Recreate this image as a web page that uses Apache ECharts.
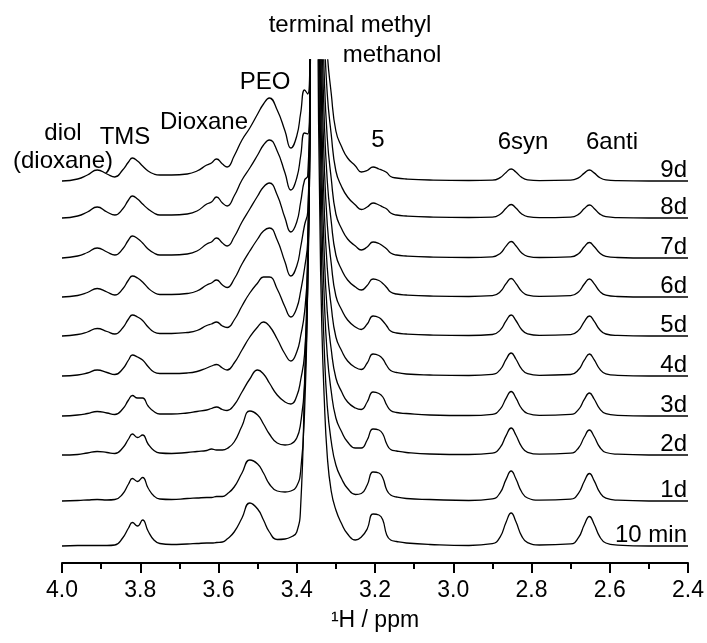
<!DOCTYPE html>
<html>
<head>
<meta charset="utf-8">
<script src="https://cdn.jsdelivr.net/npm/echarts@6/dist/echarts.min.js"></script>
<style>
  html, body { margin: 0; padding: 0; background: #fff; }
  #chart { width: 707px; height: 643px; }
</style>
</head>
<body>
<div id="chart"></div>
<script>
  // chemical shift grid (ppm), shared by every spectrum
  const ppm = [
    4.00, 3.96, 3.935, 3.91, 3.885, 3.865, 3.845, 3.83, 3.82, 3.807, 3.794, 3.78, 3.765, 3.75, 3.72, 3.68, 3.655, 3.63, 3.618, 3.605,
    3.59, 3.578, 3.56, 3.54, 3.52, 3.50, 3.485, 3.47, 3.45, 3.43, 3.415,
    3.40, 3.39, 3.38, 3.372, 3.366, 3.361, 3.356, 3.351, 3.346, 3.341, 3.336, 3.33, 3.322, 3.312, 3.30, 3.285, 3.27,
    3.25, 3.235, 3.22, 3.205, 3.19, 3.18, 3.17, 3.16, 3.145, 3.12, 3.06, 2.96,
    2.90, 2.88, 2.865, 2.852, 2.84, 2.825, 2.81, 2.78,
    2.70, 2.68, 2.665, 2.652, 2.64, 2.625, 2.61, 2.58,
    2.50, 2.40
  ];

  // spectra from bottom to top, with their vertical offsets (a.u.)
  const traceNames = ['10 min', '1d', '2d', '3d', '4d', '5d', '6d', '7d', '8d', '9d'];
  const offsets = [17, 62, 108, 147, 187, 227, 266, 305, 345, 382];

  // intensities (a.u.), the central peak goes off scale
  const h10min = [
    0, 0.5, 0.5, 0.5, 0.5, 1, 8, 18, 23.5, 20, 26, 15, 6, 2.5, 1.5, 2, 2.5, 3, 3, 3.5,
    4, 7, 14, 28, 43, 37, 26, 14, 6.5, 7, 9,
    14, 40, 165, 300, 470, 900, 1500, 1200, 520, 330, 220, 150, 90, 55, 36, 22, 12,
    6, 9, 17, 32, 31, 26, 11, 6, 4.5, 3, 1.5, 0.5,
    2.3, 9.2, 23.8, 33, 24.4, 9.9, 3.3, 1,
    2.1, 8.3, 21.2, 29.5, 21.8, 8.9, 3, 0.9,
    0, 0
  ];
  const h1d = [
    0, 0.5, 1, 1.5, 1, 1.5, 7, 17, 22.5, 19.5, 23.5, 13, 5, 2, 1.5, 2.5, 3, 3.5, 3.5, 4.5,
    4.5, 7, 14, 28, 41, 37, 28, 17, 10, 9, 10,
    15, 30, 90, 220, 420, 850, 1500, 1200, 560, 350, 230, 155, 95, 60, 36, 22, 12.5,
    6.5, 7.5, 16, 29, 28, 23, 11, 6, 4, 2.5, 1.5, 0.5,
    2.1, 8.4, 21.6, 30, 22.2, 9, 3, 0.9,
    1.9, 7.7, 19.8, 27.5, 20.4, 8.3, 2.8, 0.8,
    0, 0
  ];
  const h2d = [
    0, 0.5, 2, 3.5, 2.5, 1.5, 7, 16, 21, 17.5, 20, 11, 4.5, 2, 1.5, 2.5, 3.5, 4.5, 6, 5,
    5, 6.5, 13, 29, 44, 40, 31, 21, 12, 10, 11,
    17, 32, 70, 170, 360, 800, 1500, 1200, 600, 370, 240, 160, 100, 64, 37, 23, 13,
    7, 7, 15, 26, 25, 21, 11, 5.5, 4, 2.5, 1, 0.5,
    1.9, 7.6, 19.4, 27, 20, 8.1, 2.7, 0.8,
    1.8, 7, 18, 25, 18.5, 7.5, 2.5, 0.8,
    0, 0
  ];
  const h3d = [
    0, 1, 2.5, 4.5, 3, 1.5, 7, 16, 20.5, 18, 18, 10, 4.5, 2, 2, 3, 4.5, 6, 7.5, 9,
    6.5, 5.5, 11, 24, 37, 46, 42, 33, 21, 14, 12,
    20, 36, 62, 130, 310, 750, 1500, 1200, 640, 390, 250, 165, 104, 67, 38, 24, 14,
    8, 6.5, 14, 24, 22.5, 19, 11, 5.5, 3.5, 2.5, 1, 0.5,
    1.7, 6.9, 17.6, 24.5, 18.1, 7.4, 2.5, 0.7,
    1.6, 6.4, 16.6, 23, 17, 6.9, 2.3, 0.7,
    0, 0
  ];
  const h4d = [
    0, 1, 3, 6, 3.5, 1.5, 7, 16, 21, 19, 16, 9.5, 4, 2.5, 2.5, 3, 4.5, 8, 10, 11.5,
    8, 6, 13, 26, 39, 49, 54, 50, 37, 22, 15,
    24, 40, 64, 110, 260, 700, 1500, 1200, 680, 410, 260, 170, 108, 70, 39, 25, 15,
    8.5, 6.5, 13, 22, 20.5, 17, 10.5, 5.5, 3.5, 2, 1, 0.5,
    1.6, 6.4, 16.6, 23, 17, 6.9, 2.3, 0.7,
    1.5, 6.2, 15.8, 22, 16.3, 6.6, 2.2, 0.7,
    0, 0
  ];
  const h5d = [
    0, 1.5, 4, 7.5, 4.5, 2, 8, 17, 21, 19, 15.5, 9, 4, 2.5, 2.5, 3.5, 5.5, 10.5, 12, 14,
    10, 8.5, 16, 30, 43, 53, 59, 59, 47, 29, 19,
    28, 45, 68, 95, 220, 650, 1500, 1200, 720, 430, 270, 175, 112, 73, 40, 26, 16,
    9, 6.5, 12, 20, 18.5, 15, 10, 5, 3, 2, 1, 0.5,
    1.5, 5.9, 15.1, 21, 15.5, 6.3, 2.1, 0.6,
    1.4, 5.6, 14.4, 20, 14.8, 6, 2, 0.6,
    0, 0
  ];
  const h6d = [
    0, 1.5, 4.5, 8.5, 5, 2, 8, 17, 21, 19, 15, 9, 4.5, 2.5, 2.5, 3.5, 6, 12, 14, 17,
    12, 9.5, 18, 33, 46, 58, 66, 69, 57, 35, 21,
    31, 50, 72, 85, 190, 600, 1500, 1200, 760, 450, 280, 180, 116, 76, 42, 27, 17,
    10, 7, 11.5, 18, 16.5, 13.5, 9.5, 5, 3, 2, 1, 0.5,
    1.3, 5.2, 13.3, 18.5, 13.7, 5.6, 1.9, 0.6,
    1.3, 5, 13, 18, 13.3, 5.4, 1.8, 0.5,
    0, 0
  ];
  const h7d = [
    0, 2, 5.5, 10, 6, 3, 9, 18, 22, 19.5, 15, 9, 5, 3, 3, 4, 7, 14, 16, 20,
    15, 12, 21, 36, 49, 62, 71, 75, 63, 40, 26,
    36, 56, 78, 82, 170, 550, 1500, 1200, 800, 470, 290, 185, 120, 80, 44, 29, 19,
    12, 8, 11, 16, 14.5, 12, 9, 5, 3, 2, 1, 0.5,
    1.2, 4.6, 11.9, 16.5, 12.2, 5, 1.7, 0.5,
    1.1, 4.3, 11.2, 15.5, 11.5, 4.7, 1.6, 0.5,
    0, 0
  ];
  const h8d = [
    0, 2, 6, 11, 6, 3, 9, 18, 22, 19, 14, 9, 5, 3, 3, 4, 7, 14, 16, 21,
    15, 12, 22, 38, 50, 63, 73, 78, 67, 45, 28,
    40, 62, 85, 84, 150, 500, 1500, 1200, 840, 490, 300, 190, 124, 84, 47, 31, 21,
    13, 8.5, 11, 15, 13, 11, 9, 5, 3, 2, 1, 0.5,
    0.9, 3.8, 9.7, 13.5, 10, 4.1, 1.4, 0.4,
    0.9, 3.6, 9.4, 13, 9.6, 3.9, 1.3, 0.4,
    0, 0
  ];
  const h9d = [
    0, 2, 6, 11, 7, 4, 11, 19, 23, 20, 15, 10, 7, 6, 6, 7, 10, 16, 18, 22,
    17, 14, 25, 41, 53, 67, 77, 83, 71, 50, 33,
    45, 68, 91, 87, 140, 450, 1500, 1200, 880, 510, 310, 195, 128, 88, 50, 34, 23,
    15, 9, 10.5, 14, 12, 10.5, 8.5, 4.5, 3, 2, 1, 0.5,
    0.8, 3.4, 8.6, 12, 8.9, 3.6, 1.2, 0.4,
    0.8, 3.1, 7.9, 11, 8.1, 3.3, 1.1, 0.3,
    0, 0
  ];
  const traceHeights = [h10min, h1d, h2d, h3d, h4d, h5d, h6d, h7d, h8d, h9d];

  const FONT = 'Liberation Sans, Arial, Helvetica, sans-serif';
  const FS = 24;     // annotations
  const FS_AX = 23;  // axis

  const myChart = echarts.init(document.getElementById('chart'), null, { renderer: 'canvas' });

  myChart.setOption({
    animation: false,
    backgroundColor: '#fff',
    grid: { left: 62, right: 16, top: 60, bottom: 80 },
    xAxis: {
      type: 'value',
      min: 2.4,
      max: 4.0,
      interval: 0.2,
      inverse: true,
      axisLine: { lineStyle: { color: '#000', width: 2 } },
      axisTick: { length: 10, lineStyle: { color: '#000', width: 2 } },
      minorTick: { show: true, splitNumber: 2, length: 6, lineStyle: { color: '#000', width: 2 } },
      splitLine: { show: false },
      axisLabel: {
        color: '#000', fontSize: FS_AX, fontFamily: FONT, margin: 16,
        showMinLabel: true, showMaxLabel: true,
        formatter: (v) => v.toFixed(1)
      },
      name: '\u00b9H / ppm',
      nameLocation: 'middle',
      nameGap: 46,
      nameTextStyle: { color: '#000', fontSize: FS_AX, fontFamily: FONT }
    },
    yAxis: { type: 'value', min: 0, max: 503, show: false },
    series: traceHeights.map((h, k) => ({
      name: traceNames[k],
      type: 'line',
      data: ppm.map((p, i) => [p, offsets[k] + h[i]]),
      symbol: 'none',
      smooth: 0.5,
      clip: true,
      silent: true,
      lineStyle: { color: '#000', width: 1.3 }
    }))
  });

  // peak assignments
  const txt = (text, x, y, align) => ({
    type: 'text', x: x, y: y, silent: true,
    style: { text: text, fill: '#000', font: FS + 'px ' + FONT, textAlign: align || 'center', textVerticalAlign: 'middle' }
  });
  const graphics = [
    txt('diol', 63, 133),
    txt('(dioxane)', 63, 161),
    txt('TMS', 125, 137),
    txt('Dioxane', 204, 122),
    txt('PEO', 265, 82),
    txt('terminal methyl', 350, 25),
    txt('methanol', 392, 55),
    txt('5', 378, 140),
    txt('6syn', 523, 142),
    txt('6anti', 612, 142)
  ];
  // time labels sit on the right end of each spectrum
  traceNames.forEach((name, k) => {
    const pt = myChart.convertToPixel({ xAxisIndex: 0, yAxisIndex: 0 }, [2.4, offsets[k]]);
    graphics.push(txt(name, pt[0] - 1, pt[1] - 11, 'right'));
  });
  myChart.setOption({ graphic: graphics });

  window.addEventListener('resize', () => {
    myChart && myChart.resize();
  });
</script>
</body>
</html>
